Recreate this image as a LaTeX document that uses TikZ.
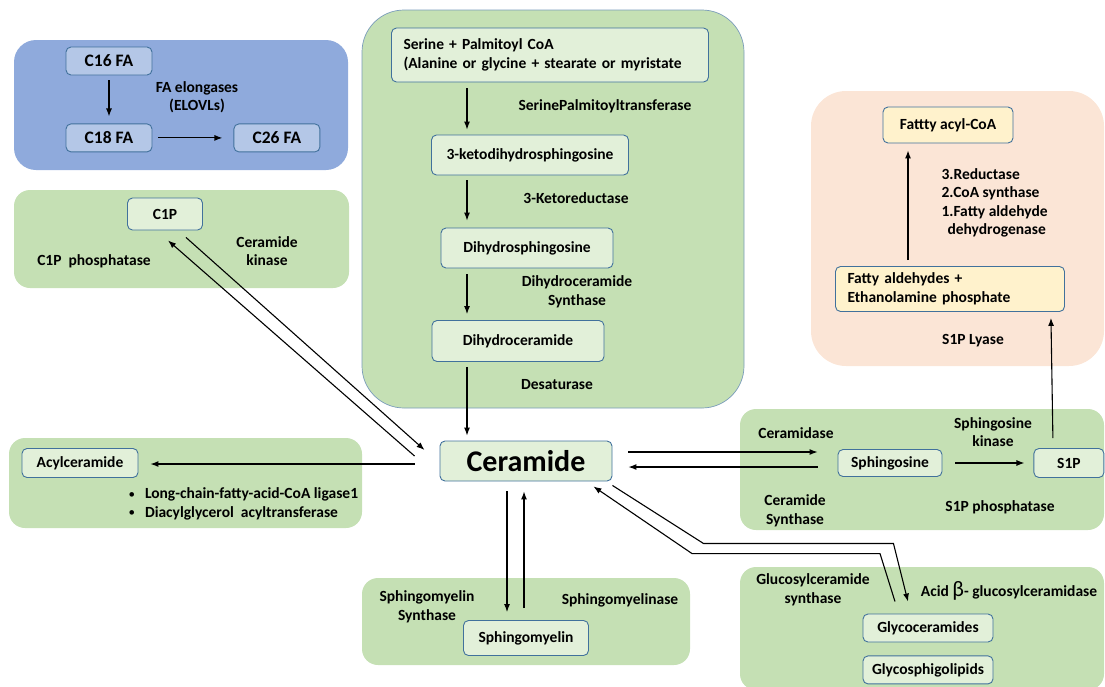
\documentclass[tikz,border=0pt]{standalone}
\usepackage{fontspec}
\setmainfont{Carlito}
\usetikzlibrary{positioning,arrows.meta}
\definecolor{grpgreen}{HTML}{C5E0B4}
\definecolor{boxgreen}{HTML}{E2F0D9}
\definecolor{grpblue}{HTML}{8FAADC}
\definecolor{boxblue}{HTML}{B4C7E7}
\definecolor{grporange}{HTML}{FBE5D6}
\definecolor{boxyellow}{HTML}{FFF2CC}
\definecolor{edgeblue}{HTML}{41719C}
\newcommand{\smallbul}{\raisebox{0.5pt}{\fontsize{13}{13}\selectfont\mdseries•}}

\begin{document}
\begin{tikzpicture}[x=1pt,y=-1pt,
  every node/.style={font=\fontsize{15.5}{18.5}\selectfont\bfseries,align=center},
  grp/.style={rounded corners=16pt,fill=grpgreen},
  stage/.style={draw=edgeblue,line width=0.9pt,rounded corners=5pt,fill=boxgreen,inner sep=0pt},
  arr/.style={-{Latex[length=8pt,width=6pt]},line width=1.1pt}]
\useasboundingbox (0,0) rectangle (1105,686);

  \fill[grpblue,rounded corners=22pt] (14,40) rectangle (348,170);
  \fill[grp] (14,190) rectangle (349,288);
  \fill[grp] (9,438) rectangle (362,528);
  \filldraw[fill=grpgreen,draw=edgeblue!70,line width=0.7pt,rounded corners=42pt] (362,10) rectangle (744,408);
  \fill[grporange,rounded corners=35pt] (811,91) rectangle (1104,366);
  \fill[grp] (740,409) rectangle (1104,530);
  \fill[grp] (740,567) rectangle (1104,690);
  \fill[grp] (362,578) rectangle (690,665);

\begin{scope}[every node/.append style={stage,fill=boxblue,minimum width=86,minimum height=28,font=\fontsize{17.5}{20}\selectfont\bfseries}]
  \node (c16) at (109,61) {C16 FA};
  \node[below=48pt of c16] (c18) {C18 FA};
  \node[right=81pt of c18] (c26) {C26 FA};
\end{scope}
  \node (elovl) at (197,97) {FA elongases\\(ELOVLs)};
  \draw[arr,shorten <=5pt,shorten >=7pt] (c16) -- (c18);
  \draw[arr,shorten <=6pt,shorten >=11pt] (c18) -- (c26);

  \node[stage,minimum width=75,minimum height=32] (c1p) at (165,214) {C1P};
  \node (c1pase) at (94,261) {C1P\ \ phosphatase};
  \node (cerkin) at (267,251) {Ceramide\\kinase};

  \node[stage,minimum width=116,minimum height=29] (acyl) at (80,463) {Acylceramide};
  \node[anchor=west,align=left] (acylenz) at (125,504)
    {\smallbul\hspace{10pt}Long-chain-fatty-acid-CoA ligase1\\\smallbul\hspace{10pt}Diacylglycerol\ \ acyltransferase};

  \node[stage,minimum width=317,minimum height=54,text width=293,align=left] (serine) at (550,55)
    {Serine + Palmitoyl CoA\\(Alanine or glycine + stearate or myristate};
  \node[stage,minimum width=197,minimum height=40] (keto) at (530,155) {3-ketodihydrosphingosine};
  \node[stage,minimum width=172,minimum height=40] (dhsph) at (527,248) {Dihydrosphingosine};
  \node[stage,minimum width=172,minimum height=41] (dhcer) at (518,341) {Dihydroceramide};
  \node[stage,minimum width=172,minimum height=40,font=\fontsize{30}{34}\selectfont\bfseries] (cer) at (526,461) {Ceramide};
  \coordinate (spine) at (467,0);
  \node (spt) at (605,106) {SerinePalmitoyltransferase};
  \node (ksr) at (576,198) {3-Ketoreductase};
  \node (cers) at (577,292) {Dihydroceramide\\Synthase};
  \node (des) at (557,385) {Desaturase};
  \draw[arr,shorten <=6pt,shorten >=5pt] (serine.south -| spine) -- (keto.north -| spine);
  \draw[arr,shorten <=5pt,shorten >=7pt] (keto.south -| spine) -- (dhsph.north -| spine);
  \draw[arr,shorten <=6pt,shorten >=6pt] (dhsph.south -| spine) -- (dhcer.north -| spine);
  \draw[arr,shorten <=5pt,shorten >=5pt] (dhcer.south -| spine) -- (cer.north -| spine);

  \draw[arr] ([shift={(-25,-5)}]cer.west) -- ([shift={(3,10)}]c1p.south);
  \draw[arr] ([shift={(21,7)}]c1p.south) -- ([shift={(-15,-11)}]cer.west);
  \draw[arr] ([shift={(-25,3)}]cer.west) -- ([shift={(12,1)}]acyl.east);

  \node[stage,fill=boxyellow,minimum width=130,minimum height=36] (acylcoa) at (948,125) {Fattty acyl-CoA};
  \node[stage,fill=boxyellow,minimum width=229,minimum height=45,text width=205,align=left] (aldeh) at (950,289)
    {Fatty aldehydes +\\Ethanolamine phosphate};
  \node[anchor=west,align=left] (aldenz) at (938,203) {3.Reductase\\2.CoA synthase\\1.Fatty aldehyde\\\hspace{6pt}dehydrogenase};
  \node (lyase) at (973,341) {S1P Lyase};
  \draw[arr] ([shift={(-42,-6)}]aldeh.north) -- ([shift={(-40,7)}]acylcoa.south);

  \node[stage,minimum width=104,minimum height=27] (sph) at (890,463) {Sphingosine};
  \node[stage,minimum width=70,minimum height=29,right=91pt of sph] (s1p) {S1P};
  \node (cdase) at (796,433) {Ceramidase};
  \node (sphk) at (993,432) {Sphingosine\\kinase};
  \node (cersyn) at (795,511) {Ceramide\\Synthase};
  \node (s1pase) at (1000,507) {S1P phosphatase};
  \draw[arr,shorten <=13pt,shorten >=9pt] (sph) -- (s1p);
  \draw[arr] ([shift={(-16,-10)}]s1p.north) -- ([shift={(-14,6)}]aldeh.south east);
  \draw[arr] ([shift={(16,-9)}]cer.east) -- ([shift={(-20,-11)}]sph.west);
  \draw[arr] ([shift={(-20,4)}]sph.west) -- ([shift={(16,6)}]cer.east);

  \node[stage,minimum width=130,minimum height=28] (glycer) at (928,628) {Glycoceramides};
  \node[stage,minimum width=130,minimum height=28,below=13pt of glycer] (glysph) {Glycosphigolipids};
  \node (gcs) at (813,590) {Glucosylceramide\\synthase};
  \node (gba) at (1009,591) {Acid {\fontsize{22}{22}\selectfont\mdseries β}- glucosylceramidase};
  \draw[arr] ([shift={(0,4)}]cer.south east) -- ++(91,58) -- ++(190,0) -- ([shift={(-20,-12)}]glycer.north);
  \draw[arr] ([shift={(-33,-12)}]glycer.north) -- ++(-15,-48) -- ++(-188,0) -- ([shift={(-19,5)}]cer.south east);

  \node[stage,minimum width=125,minimum height=35] (sm) at (526,638) {Sphingomyelin};
  \node (sms) at (427,607) {Sphingomyelin\\Synthase};
  \node (smase) at (620,600) {Sphingomyelinase};
  \draw[arr,shorten <=10pt,shorten >=8pt] ([xshift=-19pt]cer.south) -- ([xshift=-19pt]sm.north);
  \draw[arr,shorten <=12pt,shorten >=10pt] ([xshift=-2pt]sm.north) -- ([xshift=-2pt]cer.south);
\end{tikzpicture}
\end{document}
